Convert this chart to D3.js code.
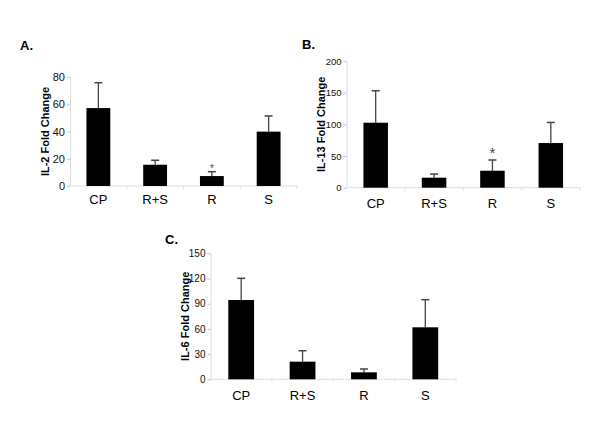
<!DOCTYPE html>
<html>
<head>
<meta charset="utf-8">
<script src="https://cdn.jsdelivr.net/npm/d3@7"></script>
<style>
  body { margin: 0; background: #fff; }
  svg { font-family: "Liberation Sans", Arial, sans-serif; }
</style>
</head>
<body>
<div class="wrapper"></div>
<script>
var groups = ["CP", "R+S", "R", "S"];

// IL-2
var il2Mean = [57.2, 15.6, 7.3, 39.9];
var il2Err = [18.6, 3.3, 3.2, 11.5];
var il2Ticks = [0, 20, 40, 60, 80];

// IL-13
var il13Mean = [102.6, 15.8, 26.8, 70.5];
var il13Err = [50.4, 5.8, 16.9, 32.5];
var il13Ticks = [0, 50, 100, 150, 200];

// IL-6
var il6Mean = [94.4, 21.0, 8.3, 61.9];
var il6Err = [25.8, 13.0, 4.0, 32.9];
var il6Ticks = [0, 30, 60, 90, 120, 150];

var width = 600, height = 448;

var svg = d3.select(".wrapper").append("svg")
  .attr("width", width)
  .attr("height", height);

function drawPanel(p) {
  var g = svg.append("g");

  var x = d3.scaleBand()
    .domain(groups)
    .range([p.x0, p.x1])
    .paddingInner(0.58)
    .paddingOuter(0.29);

  var y = d3.scaleLinear()
    .domain([0, d3.max(p.ticks)])
    .range([p.yBase, p.yTop]);

  // panel letter
  g.append("text")
    .attr("x", p.lx)
    .attr("y", p.ly)
    .style("font-weight", "bold")
    .style("font-size", "13px")
    .text(p.letter);

  // y axis
  var yAxis = g.append("g")
    .attr("transform", "translate(" + p.x0 + ",0)")
    .call(d3.axisLeft(y).tickValues(p.ticks).tickSize(3).tickPadding(2));
  yAxis.select(".domain").attr("stroke", "#ddd");
  yAxis.selectAll(".tick line").attr("stroke", "#ccc");
  yAxis.selectAll(".tick text")
    .style("font-size", p.tickSize + "px")
    .attr("fill", "#111");

  // x axis line + boundary ticks
  g.append("line")
    .attr("x1", p.x0).attr("x2", p.x1)
    .attr("y1", p.yBase).attr("y2", p.yBase)
    .attr("stroke", "#ddd");
  var bounds = groups.map(function (d) { return x(d) - x.step() * x.paddingInner() / 2; });
  bounds.push(p.x1);
  g.selectAll(".xb")
    .data(bounds.slice(1))
    .join("line")
    .attr("x1", d => d).attr("x2", d => d)
    .attr("y1", p.yBase).attr("y2", p.yBase + 3)
    .attr("stroke", "#ddd");

  // category labels
  g.selectAll(".cat")
    .data(groups)
    .join("text")
    .attr("x", d => x(d) + x.bandwidth() / 2)
    .attr("y", p.yBase + p.catGap)
    .attr("text-anchor", "middle")
    .style("font-size", "13px")
    .text(d => d);

  // error bars (upper only)
  var errG = g.selectAll(".err")
    .data(groups)
    .join("g");
  errG.append("line")
    .attr("x1", d => x(d) + x.bandwidth() / 2)
    .attr("x2", d => x(d) + x.bandwidth() / 2)
    .attr("y1", (d, i) => y(p.mean[i]))
    .attr("y2", (d, i) => y(p.mean[i] + p.err[i]))
    .attr("stroke", "#444")
    .attr("stroke-width", 1.3);
  errG.append("line")
    .attr("x1", d => x(d) + x.bandwidth() / 2 - 4)
    .attr("x2", d => x(d) + x.bandwidth() / 2 + 4)
    .attr("y1", (d, i) => y(p.mean[i] + p.err[i]))
    .attr("y2", (d, i) => y(p.mean[i] + p.err[i]))
    .attr("stroke", "#444")
    .attr("stroke-width", 1.5);

  // bars
  g.selectAll(".bar")
    .data(groups)
    .join("rect")
    .attr("x", d => x(d))
    .attr("width", x.bandwidth())
    .attr("y", (d, i) => y(p.mean[i]))
    .attr("height", (d, i) => p.yBase - y(p.mean[i]))
    .attr("fill", "#000");

  // significance star
  if (p.star) {
    var si = groups.indexOf(p.star);
    g.append("text")
      .attr("x", x(p.star) + x.bandwidth() / 2)
      .attr("y", y(p.mean[si] + p.err[si]) - p.starGap)
      .attr("text-anchor", "middle")
      .style("font-size", p.starSize + "px")
      .attr("fill", "#444")
      .text("*");
  }

  // y title
  g.append("text")
    .attr("transform", "translate(" + p.tx + "," + ((p.yBase + p.yTop) / 2) + ") rotate(-90)")
    .attr("text-anchor", "middle")
    .style("font-weight", "bold")
    .style("font-size", "11px")
    .text(p.title);
}

drawPanel({
  letter: "A.", lx: 20, ly: 50,
  title: "IL-2 Fold Change", tx: 49,
  mean: il2Mean, err: il2Err, ticks: il2Ticks, tickSize: 11,
  x0: 70, x1: 297, yBase: 186, yTop: 77, catGap: 18,
  star: "R", starSize: 10, starGap: 0
});

drawPanel({
  letter: "B.", lx: 302, ly: 49,
  title: "IL-13 Fold Change", tx: 325,
  mean: il13Mean, err: il13Err, ticks: il13Ticks, tickSize: 9.5,
  x0: 346.5, x1: 580, yBase: 187.7, yTop: 61, catGap: 20,
  star: "R", starSize: 15, starGap: 2
});

drawPanel({
  letter: "C.", lx: 165, ly: 244,
  title: "IL-6 Fold Change", tx: 189,
  mean: il6Mean, err: il6Err, ticks: il6Ticks, tickSize: 10,
  x0: 210.5, x1: 456, yBase: 379.3, yTop: 253.3, catGap: 21
});
</script>
</body>
</html>
